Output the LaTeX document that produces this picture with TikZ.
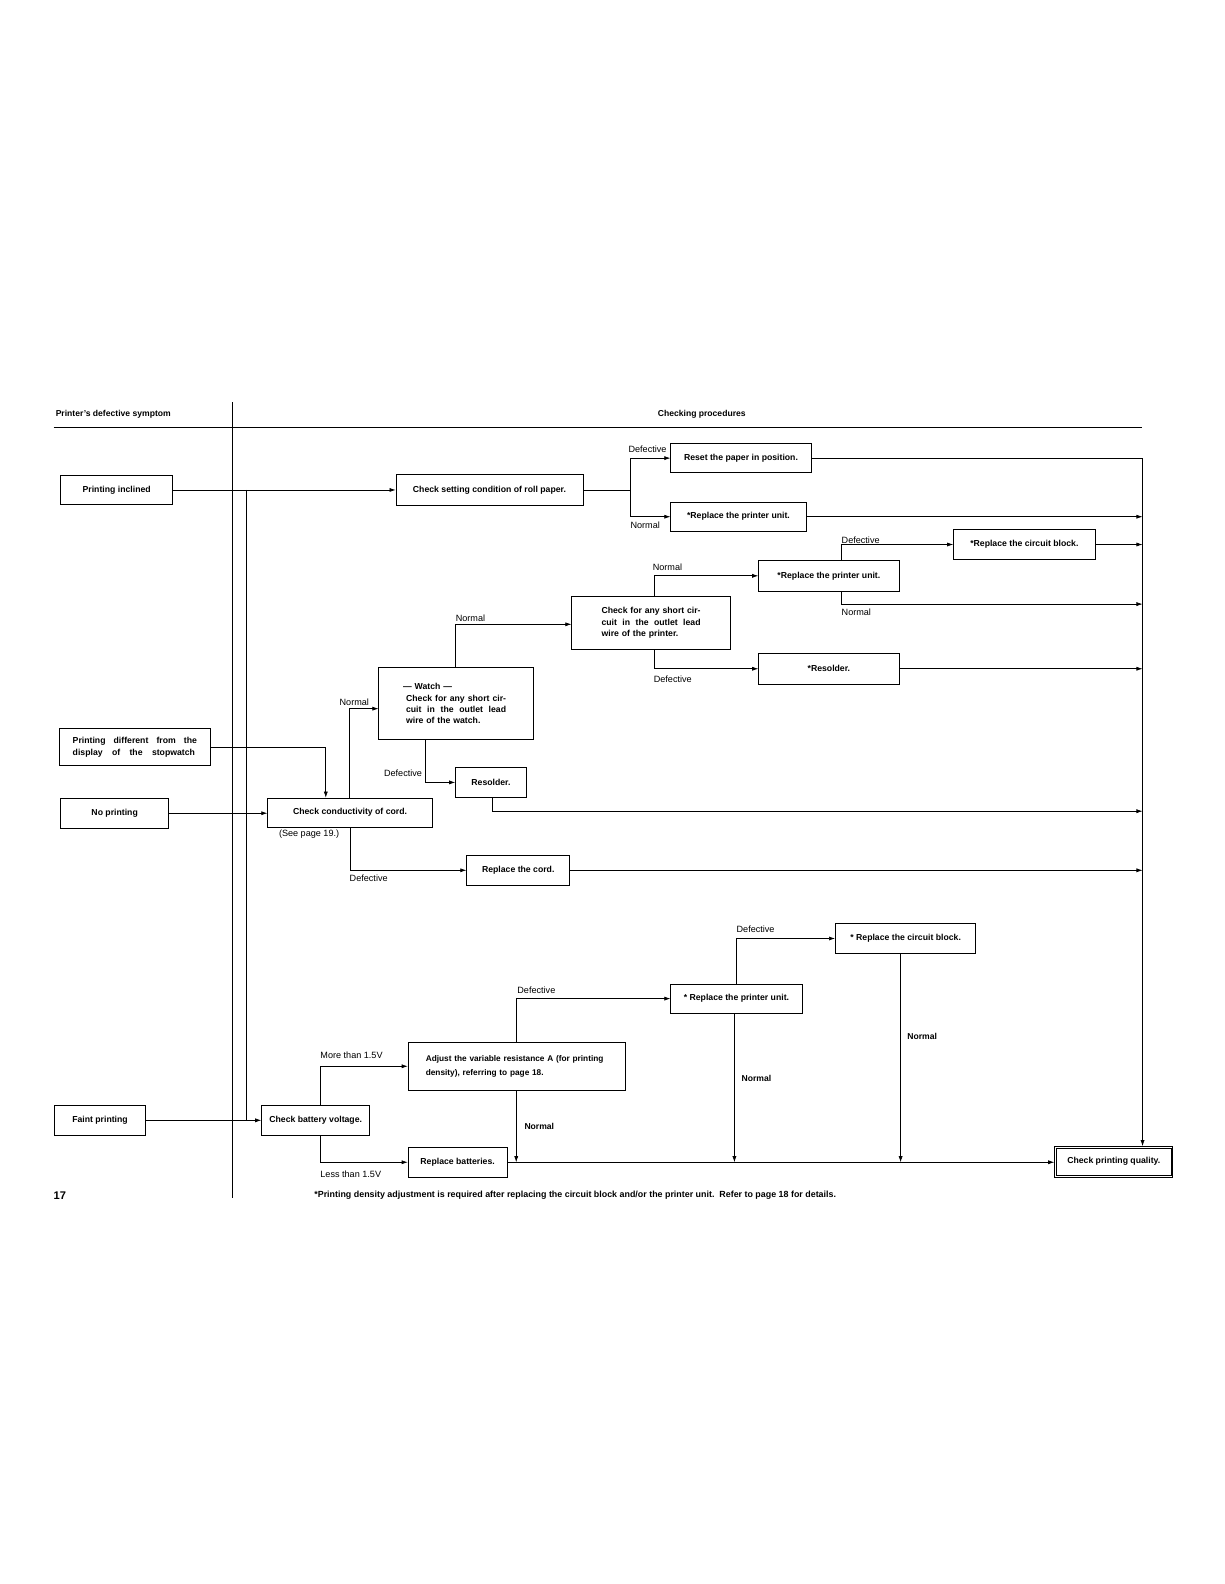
\documentclass[tikz,border=0pt]{standalone}
\usepackage{fontspec}
\setmainfont{Liberation Sans}
\usetikzlibrary{arrows.meta}
\newcommand\bxf{\fontsize{8.6}{11.3}\selectfont\bfseries}
\newcommand\lbf{\fontsize{9}{11}\selectfont}
\newcommand\lbbf{\fontsize{8.5}{10}\selectfont\bfseries}
\newcommand\fnf{\fontsize{8.8}{10}\selectfont\bfseries}
\newcommand\jline[2]{\makebox[#1][l]{#2}}
\begin{document}
\begin{tikzpicture}[x=1pt,y=-1pt,
  box/.style={draw, line width=0.75pt, inner sep=0pt, font=\bxf, align=center},
  arr/.style={line width=0.65pt, -{Latex[length=6pt,width=4pt]}},
  ln/.style={line width=0.65pt},
  lab/.style={inner sep=0pt, anchor=west, font=\lbf},
  labb/.style={inner sep=0pt, anchor=west, font=\lbbf},
  hdr/.style={inner sep=0pt, anchor=west, font=\fontsize{8.5}{10}\selectfont\bfseries}]
\fill[white] (0,0) rectangle (1212,1568);
\useasboundingbox (0,0) rectangle (1212,1568);

% header
\node[hdr] (h1) at (55,410) {Printer’s defective symptom};
\node[hdr] (h2) at (651,410) {Checking procedures};
\draw[line width=0.9pt] (53,423) -- (1130,423);
\draw[line width=0.7pt] (230,398) -- (230,1186);

% left symptom boxes
\node[box, minimum width=111pt, minimum height=29pt] (pinc) at (115.5,485) {Printing inclined};
\node[box, minimum width=149pt, minimum height=37pt, align=left, text width=123pt,
  font=\fontsize{8.6}{12}\selectfont\bfseries] (pdiff) at (133.5,739.5)
  {\jline{123pt}{Printing\hfill different\hfill from\hfill the}\\\jline{121pt}{display\hfill of\hfill the\hfill stopwatch}};
\node[box, minimum width=107pt, minimum height=30pt] (nopr) at (113.5,805) {No printing};
\node[box, minimum width=90pt, minimum height=30pt] (faint) at (99,1109) {Faint printing};

% procedure boxes
\node[box, minimum width=185pt, minimum height=30pt] (roll) at (484.5,485) {Check setting condition of roll paper.};
\node[box, minimum width=139pt, minimum height=29pt] (reset) at (733.5,453.5) {Reset the paper in position.};
\node[box, minimum width=134pt, minimum height=29pt] (rpu1) at (731,511.5) {*Replace the printer unit.};
\node[box, minimum width=140pt, minimum height=30pt] (rcb1) at (1014,539) {*Replace the circuit block.};
\node[box, minimum width=139pt, minimum height=30pt] (rpu2) at (820.5,570) {*Replace the printer unit.};
\node[box, minimum width=157pt, minimum height=53pt, align=left, text width=98pt] (cpr) at (644.5,616.5)
  {\jline{98pt}{Check\hfill for\hfill any\hfill short\hfill cir-}\\\jline{98pt}{cuit\hfill in\hfill the\hfill outlet\hfill lead}\\wire of the printer.};
\node[box, minimum width=139pt, minimum height=30pt] (res2) at (820.5,662) {*Resolder.};
\node[box, minimum width=153pt, minimum height=71pt, align=left, text width=99pt] (watch) at (451.5,696.5)
  {\hspace*{-3pt}— Watch —\\\jline{99pt}{Check\hfill for\hfill any\hfill short\hfill cir-}\\\jline{99pt}{cuit\hfill in\hfill the\hfill outlet\hfill lead}\\wire of the watch.};
\node[box, minimum width=70pt, minimum height=29pt] (res1) at (486,774.5) {Resolder.};
\node[box, minimum width=163pt, minimum height=29pt] (cord) at (346.5,804.5) {Check conductivity of cord.};
\node[box, minimum width=102pt, minimum height=29pt] (rcord) at (513,861.5) {Replace the cord.};
\node[box, minimum width=139pt, minimum height=30pt] (rcb2) at (896.5,929) {* Replace the circuit block.};
\node[box, minimum width=130pt, minimum height=29pt] (rpu3) at (729,988.5) {* Replace the printer unit.};
\node[box, minimum width=215pt, minimum height=47pt, align=left, text width=180pt,
  font=\fontsize{8.2}{13.2}\selectfont\bfseries] (adj) at (511.5,1055.5)
  {Adjust the variable resistance A (for printing\\density), referring to page 18.};
\node[box, minimum width=107pt, minimum height=30pt] (batt) at (312.5,1109) {Check battery voltage.};
\node[box, minimum width=98pt, minimum height=29pt] (rbat) at (453,1150.5) {Replace batteries.};
\node[box, minimum width=117pt, minimum height=30pt] (cpq) at (1102.5,1150) {Check printing quality.};
\draw[line width=0.6pt] ([shift={(2.2pt,-2.2pt)}]cpq.north west) rectangle ([shift={(-2.2pt,2.2pt)}]cpq.south east);

% helper coordinates
\coordinate (bus) at (1131,0);
\coordinate (jx) at (244,0);
\coordinate (sx) at (624,0);
\coordinate (b598) at (1131,598);
\coordinate (b803) at (1131,803);

% left connectors
\draw[arr] (pinc.east) -- (pinc.east -| roll.west);
\draw[ln] (pinc.east -| jx) -- (faint.east -| jx);
\draw[arr] (faint.east) -- (faint.east -| batt.west);
\draw[arr] (nopr.east) -- (nopr.east -| cord.west);
\draw[arr] (pdiff.east) -| ([xshift=-24]cord.north);

% roll paper branch
\draw[ln] (roll.east) -- (roll.east -| sx);
\draw[arr] (roll.east -| sx) |- (reset.west);
\draw[arr] (roll.east -| sx) |- (rpu1.west);
\draw[arr] (reset.east) -| ([xshift=28.5]cpq.north);
\draw[arr] (rpu1.east) -- (rpu1.east -| bus);

% cord branch
\draw[arr] ([xshift=-0.5]cord.north) |- ([yshift=-5]watch.west);
\draw[arr] (cord.south) |- (rcord.west);
\draw[arr] (rcord.east) -- (rcord.east -| bus);
\draw[arr] ([xshift=-30]watch.south) |- (res1.west);
\draw[arr] ([xshift=1]res1.south) |- (b803);
\draw[arr] ([xshift=-1]watch.north) |- ([yshift=-1.5]cpr.west);
\draw[arr] ([xshift=3]cpr.north) |- (rpu2.west);
\draw[arr] ([xshift=3]cpr.south) |- (res2.west);
\draw[arr] (res2.east) -- (res2.east -| bus);
\draw[arr] ([xshift=12.5]rpu2.north) |- (rcb1.west);
\draw[arr] ([xshift=12.5]rpu2.south) |- (b598);
\draw[arr] (rcb1.east) -- (rcb1.east -| bus);

% battery branch
\coordinate (adjS) at ([xshift=-0.5]adj.south);
\coordinate (p3S) at ([xshift=-2]rpu3.south);
\coordinate (c2S) at ([xshift=-5]rcb2.south);
\draw[arr] ([xshift=4.5]batt.north) |- (adj.west);
\draw[arr] ([xshift=4.5]batt.south) |- (rbat.west);
\draw[arr] ([xshift=-0.5]adj.north) |- (rpu3.west);
\draw[arr] (adjS) -- (adjS |- rbat.east);
\draw[arr] ([xshift=-0.5]rpu3.north) |- (rcb2.west);
\draw[arr] (p3S) -- (p3S |- rbat.east);
\draw[arr] (c2S) -- (c2S |- rbat.east);
\draw[arr] (rbat.east) -- (rbat.east -| cpq.west);

% labels
\node[lab] (l1) at (622,445) {Defective};
\node[lab] (l2) at (624,520) {Normal};
\node[lab] (l3) at (833,535) {Defective};
\node[lab] (l4) at (646,562) {Normal};
\node[lab] (l5) at (833,606) {Normal};
\node[lab] (l6) at (451,612) {Normal};
\node[lab] (l7) at (647,672) {Defective};
\node[lab] (l8) at (336,695) {Normal};
\node[lab] (l9) at (380,765) {Defective};
\node[lab] (l10) at (276,826) {(See page 19.)};
\node[lab] (l11) at (346,869) {Defective};
\node[lab] (l12) at (729,920) {Defective};
\node[lab] (l13) at (512,980) {Defective};
\node[lab] (l14) at (317,1045) {More than 1.5V};
\node[labb] (l15) at (519,1115) {Normal};
\node[labb] (l16) at (734,1068) {Normal};
\node[labb] (l17) at (898,1026) {Normal};
\node[lab] (l18) at (317,1162) {Less than 1.5V};

% footer
\node[inner sep=0pt, anchor=west, font=\fontsize{11}{13}\selectfont\bfseries] (pg) at (53,1184) {17};
\node[inner sep=0pt, anchor=west, font=\fnf] (fn) at (311,1183) {*Printing density adjustment is required after replacing the circuit block and/or the printer unit.\ \ Refer to page 18 for details.};
\end{tikzpicture}
\end{document}
